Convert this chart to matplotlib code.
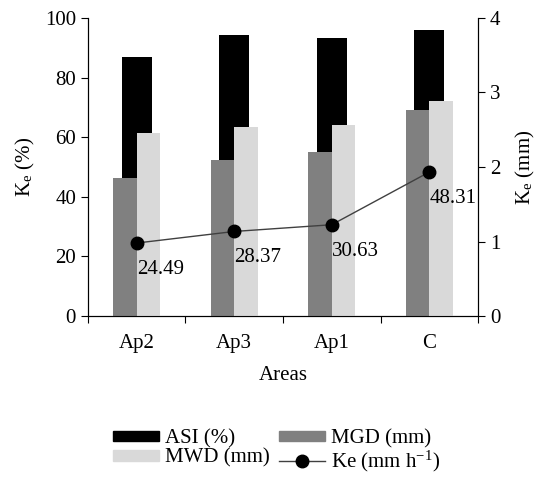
import numpy as np
import matplotlib
matplotlib.use('Agg')
import matplotlib.pyplot as plt
from matplotlib.patches import Patch
from matplotlib.lines import Line2D

plt.rcParams['font.family'] = ['Liberation Serif', 'DejaVu Serif']
plt.rcParams['mathtext.fontset'] = 'stix'
plt.rcParams['font.size'] = 15

# data
areas = ['Ap2', 'Ap3', 'Ap1', 'C']
asi = [86.8, 94.2, 93.2, 96.0]        # %
mgd = [1.85, 2.10, 2.20, 2.76]        # mm
mwd = [2.46, 2.53, 2.56, 2.88]        # mm
ke = [24.49, 28.37, 30.63, 48.31]     # mm h-1
ke_labels = ['24.49', '28.37', '30.63', '48.31']

x = np.arange(len(areas))

fig = plt.figure(figsize=(5.39, 4.84), dpi=100)
ax = fig.add_axes([0.163, 0.347, 0.724, 0.616])
ax2 = ax.twinx()
ax3 = ax.twinx()

# ASI behind, MGD/MWD in front
ax.bar(x, asi, width=0.31, color='black', zorder=1)
ax2.bar(x - 0.12, mgd, width=0.24, color='#808080', zorder=2)
ax2.bar(x + 0.12, mwd, width=0.24, color='#d9d9d9', zorder=2)

# Ke line on top (same scale as left axis)
ax3.plot(x, ke, color='#404040', lw=1, marker='o', markersize=9,
         markerfacecolor='black', markeredgecolor='black')
for xi, v, lab in zip(x, ke, ke_labels):
  ax3.annotate(lab, (xi, v), xytext=(0, -19), textcoords='offset points',
               ha='left', va='center', fontsize=15)

ax.set_xlim(-0.5, len(areas) - 0.5)
ax.set_ylim(0, 100)
ax2.set_ylim(0, 4)
ax3.set_ylim(0, 100)
ax3.axis('off')

ax.set_yticks([0, 20, 40, 60, 80, 100])
ax2.set_yticks([0, 1, 2, 3, 4])

ax.set_xticks(np.arange(len(areas) + 1) - 0.5)
ax.set_xticklabels([])
ax.set_xticks(x, minor=True)
ax.set_xticklabels(areas, minor=True)
ax.tick_params(axis='x', which='major', direction='out', length=5)
ax.tick_params(axis='x', which='minor', length=0, pad=13)
ax.tick_params(axis='y', direction='out', length=5)
ax2.tick_params(axis='y', direction='out', length=5)

for a in (ax, ax2):
  a.spines['top'].set_visible(False)
ax.set_xlabel('Areas', labelpad=9)
ax.set_ylabel(r'K$_\mathregular{e}$ (%)', labelpad=6)
ax2.set_ylabel(r'K$_\mathregular{e}$ (mm)', rotation=90, labelpad=10)

handles = [Patch(color='black'), Patch(color='#808080'),
           Patch(color='#d9d9d9'),
           Line2D([], [], color='#404040', lw=1, marker='o', markersize=9,
                  markerfacecolor='black', markeredgecolor='black')]
labels = ['ASI (%)', 'MGD (mm)', 'MWD (mm)', r'Ke (mm h$^{\mathregular{-1}}$)']
# row-wise order for a 2-column legend
order = [0, 2, 1, 3]
fig.legend([handles[i] for i in order], [labels[i] for i in order], ncol=2,
           frameon=False, loc='center left', bbox_to_anchor=(0.21, 0.067),
           handlelength=2.2, handleheight=0.4, handletextpad=0.3,
           columnspacing=0.45, labelspacing=0.0, borderaxespad=0, borderpad=0)

fig.savefig('out.png', dpi=100)
